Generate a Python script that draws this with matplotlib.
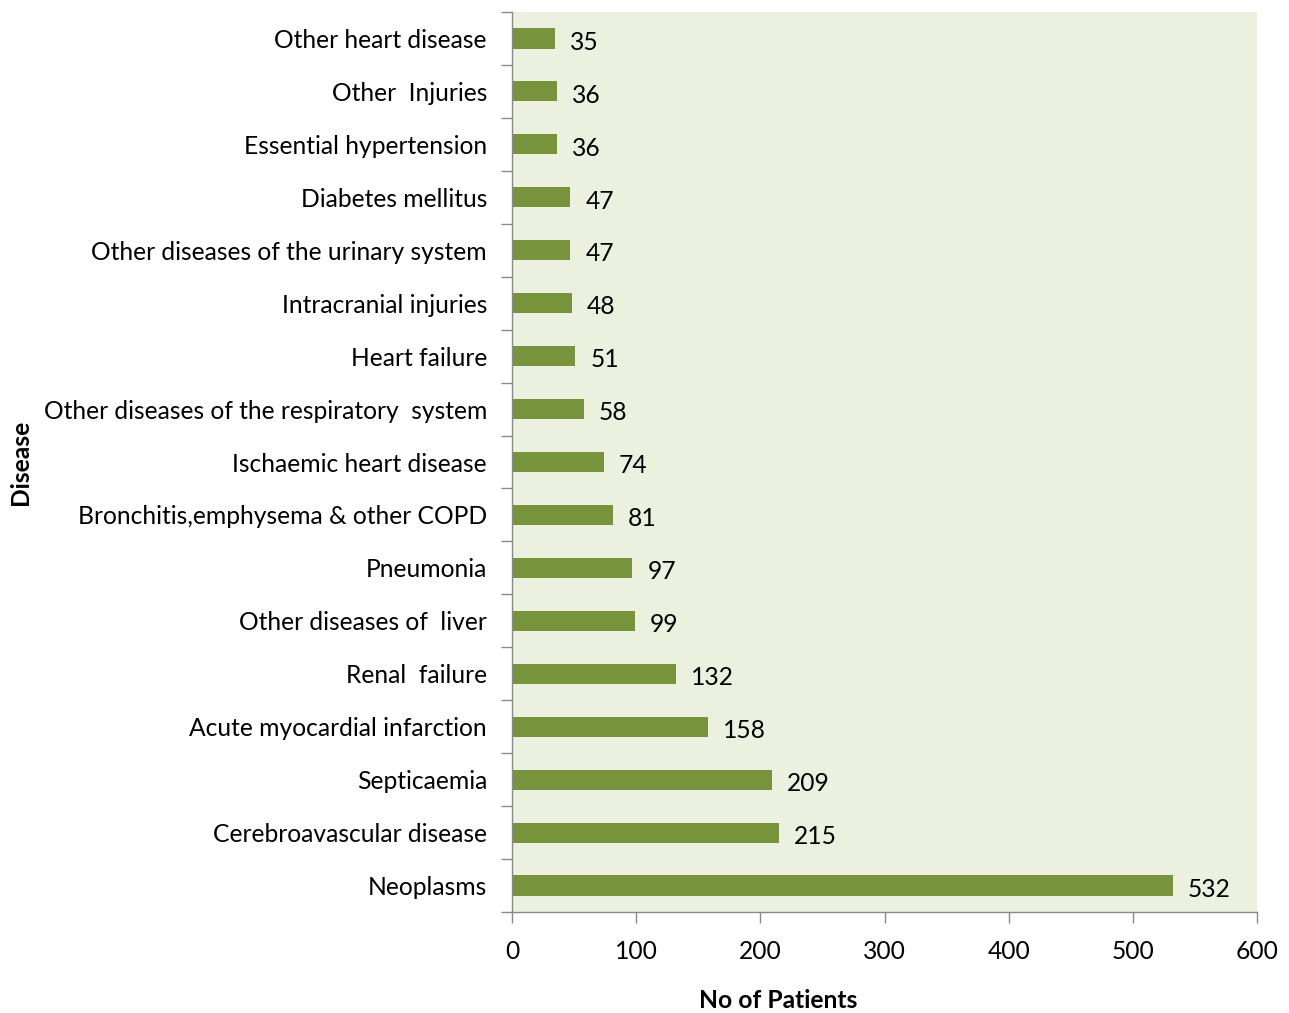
import matplotlib
matplotlib.use("Agg")
import matplotlib.pyplot as plt
from matplotlib.ticker import FixedLocator, NullFormatter

plt.rcParams['font.family'] = ['Lato', 'DejaVu Sans']

categories = ["Neoplasms", "Cerebroavascular disease", "Septicaemia",
              "Acute myocardial infarction", "Renal  failure", "Other diseases of  liver",
              "Pneumonia", "Bronchitis,emphysema & other COPD", "Ischaemic heart disease",
              "Other diseases of the respiratory  system", "Heart failure",
              "Intracranial injuries", "Other diseases of the urinary system",
              "Diabetes mellitus", "Essential hypertension", "Other  Injuries",
              "Other heart disease"]
values = [532, 215, 209, 158, 132, 99, 97, 81, 74, 58, 51, 48, 47, 47, 36, 36, 35]
xticks = [0, 100, 200, 300, 400, 500, 600]

FS = 17.7

fig = plt.figure(figsize=(12.89, 10.13), dpi=100)
ax = fig.add_axes([512/1289, 1-912/1013, (1257-512)/1289, 900/1013])
ax.set_facecolor('#EBF1DE')

pos = list(range(len(categories)))
ax.barh(pos, values, height=0.38, color='#77933C', zorder=2)
for p, v in zip(pos, values):
    ax.text(v + 12, p - 0.07, str(v), va='center', ha='left', fontsize=FS, color='black')

ax.set_xlim(0, 600)
ax.set_ylim(-0.5, len(categories) - 0.5)
ax.set_xticks(xticks)
ax.set_xticklabels([str(t) for t in xticks], fontsize=FS)
ax.set_yticks(pos)
ax.set_yticklabels(categories, fontsize=FS)
ax.tick_params(axis='y', length=0, pad=18)
ax.yaxis.set_minor_locator(FixedLocator([p - 0.5 for p in pos] + [len(pos) - 0.5]))
ax.yaxis.set_minor_formatter(NullFormatter())
ax.tick_params(axis='y', which='minor', length=8, color='#898989', width=1)
ax.tick_params(axis='x', length=8, color='#898989', width=1, pad=12)

for s in ['top', 'right']:
    ax.spines[s].set_visible(False)
for s in ['left', 'bottom']:
    ax.spines[s].set_color('#898989')
    ax.spines[s].set_linewidth(1)

fig.text(778/1289, 1-1000/1013, 'No of Patients', fontsize=FS, fontweight='bold',
         ha='center', va='center')
fig.text(20/1289, 1-462/1013, 'Disease', rotation=90, fontsize=FS, fontweight='bold',
         ha='center', va='center')

fig.savefig('out.png', dpi=100)
